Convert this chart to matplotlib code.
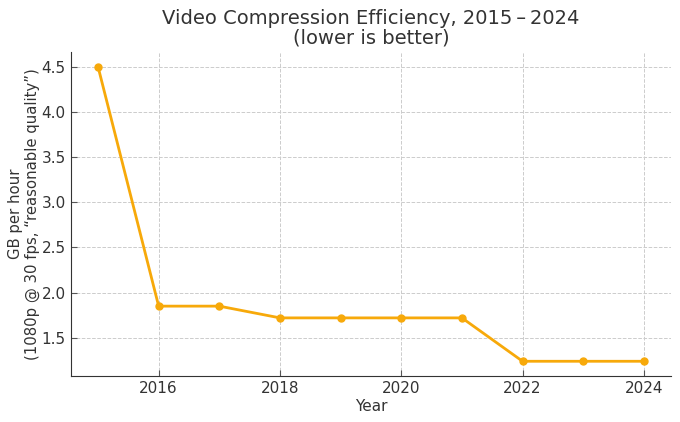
import matplotlib
matplotlib.use("Agg")
from matplotlib import pyplot as plt

years = [2015, 2016, 2017, 2018, 2019, 2020, 2021, 2022, 2023, 2024]
gb_per_hour = [4.5, 1.85, 1.85, 1.72, 1.72, 1.72, 1.72, 1.24, 1.24, 1.24]

plt.rcParams['font.family'] = ['DejaVu Sans']
plt.rcParams['text.color'] = '#333333'
plt.rcParams['axes.labelcolor'] = '#333333'
plt.rcParams['xtick.color'] = '#333333'
plt.rcParams['ytick.color'] = '#333333'

fig = plt.figure(figsize=(6.8, 4.22), dpi=100)
ax = fig.add_axes([0.104, 0.109, 0.883, 0.768])

ax.plot(years, gb_per_hour, color='#F7A90A', linewidth=2, marker='o', markersize=5)

ax.set_title("Video Compression Efficiency, 2015\u2009–\u20092024\n(lower is better)",
             fontsize=14, linespacing=1.05, pad=6)
ax.set_xlabel("Year", fontsize=11, labelpad=2)
ax.set_ylabel("GB per hour\n(1080p @ 30 fps, “reasonable quality”)", fontsize=10.7,
              labelpad=1)

ax.grid(True, linestyle='--', color='#cccccc', linewidth=0.7)
ax.set_axisbelow(True)
ax.tick_params(direction='in', labelsize=11, length=4, color='#555555')
ax.spines['top'].set_visible(False)
ax.spines['right'].set_visible(False)
for s in ('left', 'bottom'):
    ax.spines[s].set_color('#333333')

fig.savefig("out.png", dpi=100)
